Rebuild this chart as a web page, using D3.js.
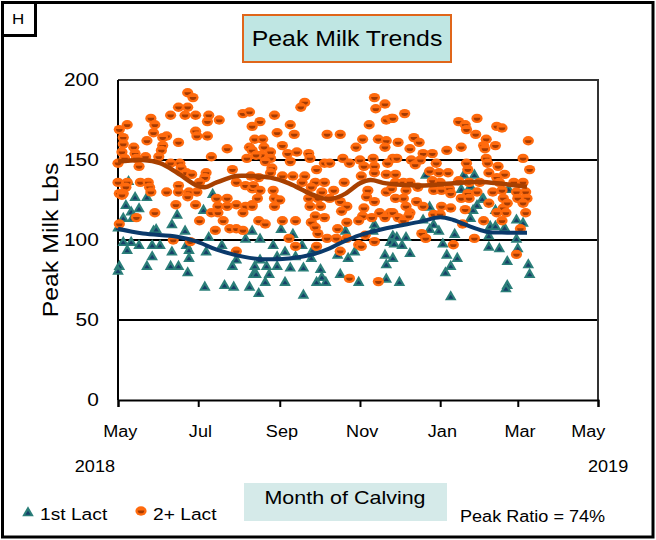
<!DOCTYPE html>
<html>
<head>
<meta charset="utf-8">
<script src="https://cdn.jsdelivr.net/npm/d3@7"></script>
<style>
    body { margin: 0; background: #fff; }
    svg { display: block; font-family: "Liberation Sans", Arial, sans-serif; }
</style>
</head>
<body>
<div class="container"></div>
<script>
const w = 656;
const h = 540;

const margin = {
    top: 80,
    right: 58,
    bottom: 140,
    left: 118
}

// the original lettering is a little wider than Arial
const stretch = 1.13;

// peak milk (lbs) by calving date
const firstLact = [
    ['2018-05-09', 137], ['2018-05-14', 127], ['2018-05-23', 127], ['2018-07-12', 129], ['2018-05-07', 122],
    ['2018-05-17', 120], ['2018-06-15', 116], ['2018-07-05', 119], ['2018-05-11', 118], ['2018-05-12', 114],
    ['2018-05-05', 114], ['2018-06-11', 110], ['2018-05-01', 108], ['2018-06-21', 106], ['2018-05-28', 106],
    ['2018-05-30', 107], ['2018-07-09', 102], ['2018-05-05', 99], ['2018-05-11', 99], ['2018-05-17', 97],
    ['2018-05-27', 97], ['2018-06-02', 97], ['2018-06-22', 97], ['2018-07-19', 97], ['2018-05-08', 94],
    ['2018-06-11', 93], ['2018-06-24', 94], ['2018-07-07', 93], ['2018-08-06', 101], ['2018-07-30', 88],
    ['2018-05-27', 90], ['2018-05-23', 84], ['2018-06-10', 84], ['2018-06-16', 84], ['2018-06-24', 89],
    ['2018-06-23', 80], ['2018-05-02', 84], ['2018-05-01', 81], ['2018-07-27', 84], ['2018-08-12', 79],
    ['2018-07-06', 71], ['2018-07-21', 72], ['2018-07-28', 71], ['2018-08-09', 71], ['2018-08-11', 106],
    ['2018-08-17', 101], ['2018-09-02', 107], ['2018-09-11', 104], ['2018-08-27', 97], ['2018-09-18', 97],
    ['2018-09-05', 93], ['2018-09-26', 94], ['2018-08-17', 88], ['2018-08-30', 90], ['2018-09-13', 90],
    ['2018-09-25', 89], ['2018-10-15', 91], ['2018-10-23', 89], ['2018-10-28', 93], ['2018-11-20', 91],
    ['2018-11-21', 85], ['2018-11-24', 99], ['2018-10-21', 106], ['2018-11-11', 106], ['2018-11-12', 110],
    ['2018-08-13', 84], ['2018-08-22', 84], ['2018-08-30', 84], ['2018-09-09', 83], ['2018-09-19', 83],
    ['2018-08-14', 79], ['2018-08-24', 79], ['2018-09-05', 74], ['2018-10-02', 82], ['2018-10-03', 77],
    ['2018-09-29', 74], ['2018-10-06', 74], ['2018-10-17', 79], ['2018-10-31', 74], ['2018-11-21', 76],
    ['2018-08-21', 74], ['2018-08-16', 67], ['2018-09-19', 66], ['2018-12-21', 141], ['2019-01-19', 141],
    ['2019-01-27', 141], ['2019-01-24', 134], ['2019-01-17', 132], ['2019-02-03', 126], ['2019-02-22', 132],
    ['2018-12-24', 121], ['2019-01-29', 122], ['2019-02-02', 126], ['2019-01-26', 119], ['2019-01-24', 114],
    ['2019-02-12', 119], ['2019-02-28', 113], ['2019-03-05', 111], ['2018-12-19', 113], ['2018-12-27', 110],
    ['2018-12-24', 107], ['2018-12-31', 106], ['2019-01-12', 104], ['2019-02-08', 109], ['2019-02-12', 109],
    ['2019-02-19', 108], ['2019-02-07', 103], ['2019-02-28', 101], ['2019-01-03', 98], ['2019-02-07', 96],
    ['2019-02-15', 95], ['2019-03-01', 95], ['2019-01-06', 91], ['2019-01-14', 89], ['2019-02-21', 87],
    ['2019-01-09', 84], ['2019-01-05', 80], ['2019-03-09', 85], ['2019-03-10', 79], ['2018-11-26', 103],
    ['2018-11-29', 102], ['2018-12-06', 102], ['2018-11-27', 98], ['2018-12-03', 97], ['2018-12-09', 92],
    ['2018-11-26', 89], ['2018-12-01', 74], ['2019-02-21', 72], ['2019-02-20', 70], ['2019-01-09', 65]
];

const secondLact = [
    ['2018-06-23', 192], ['2018-06-27', 189], ['2018-06-16', 183], ['2018-06-23', 183], ['2018-06-10', 178],
    ['2018-06-21', 178], ['2018-06-29', 178], ['2018-07-09', 178], ['2018-07-17', 175], ['2018-07-08', 174],
    ['2018-08-04', 179], ['2018-08-09', 180], ['2018-05-26', 176], ['2018-05-29', 172], ['2018-05-08', 172],
    ['2018-05-02', 169], ['2018-06-29', 168], ['2018-05-28', 167], ['2018-06-30', 165], ['2018-07-08', 165],
    ['2018-06-07', 165], ['2018-06-04', 164], ['2018-05-05', 164], ['2018-05-23', 162], ['2018-06-16', 161],
    ['2018-05-05', 160], ['2018-06-04', 159], ['2018-07-23', 157], ['2018-08-09', 158], ['2018-05-13', 158],
    ['2018-06-03', 156], ['2018-05-04', 155], ['2018-05-14', 154], ['2018-05-06', 151], ['2018-05-15', 151],
    ['2018-05-22', 152], ['2018-06-01', 152], ['2018-07-11', 152], ['2018-08-07', 151], ['2018-05-01', 148],
    ['2018-05-17', 146], ['2018-06-10', 148], ['2018-06-17', 148], ['2018-06-18', 145], ['2018-06-22', 142],
    ['2018-06-26', 141], ['2018-07-07', 142], ['2018-07-06', 139], ['2018-07-02', 136], ['2018-07-27', 144],
    ['2018-07-30', 136], ['2018-08-06', 134], ['2018-08-10', 140], ['2018-05-01', 136], ['2018-05-08', 136],
    ['2018-05-18', 136], ['2018-05-24', 136], ['2018-05-25', 133], ['2018-05-07', 133], ['2018-05-02', 129],
    ['2018-05-05', 129], ['2018-05-26', 130], ['2018-06-07', 130], ['2018-06-16', 134], ['2018-06-16', 130],
    ['2018-06-24', 130], ['2018-06-30', 130], ['2018-07-15', 126], ['2018-07-23', 126], ['2018-08-11', 132],
    ['2018-06-23', 127], ['2018-05-04', 128], ['2018-06-14', 122], ['2018-06-29', 122], ['2018-05-29', 117],
    ['2018-05-15', 114], ['2018-05-02', 110], ['2018-07-02', 112], ['2018-07-11', 117], ['2018-07-16', 117],
    ['2018-07-16', 121], ['2018-07-23', 121], ['2018-07-30', 122], ['2018-08-06', 121], ['2018-08-04', 117],
    ['2018-08-11', 122], ['2018-07-20', 112], ['2018-07-14', 106], ['2018-07-25', 107], ['2018-07-30', 107],
    ['2018-08-04', 106], ['2018-06-12', 100], ['2018-06-25', 99], ['2018-07-30', 93],
    ['2018-09-20', 186], ['2018-09-17', 183], ['2018-11-12', 189], ['2018-11-20', 185], ['2018-11-13', 182],
    ['2018-08-28', 178], ['2018-09-09', 172], ['2018-08-17', 174], ['2018-08-11', 171], ['2018-08-30', 167],
    ['2018-09-12', 166], ['2018-10-07', 166], ['2018-10-17', 166], ['2018-11-08', 172], ['2018-11-21', 175],
    ['2018-11-25', 176], ['2018-08-13', 163], ['2018-08-19', 163], ['2018-09-03', 159], ['2018-08-20', 158],
    ['2018-08-25', 155], ['2018-08-11', 156], ['2018-09-14', 155], ['2018-09-07', 154], ['2018-09-23', 154],
    ['2018-09-24', 151], ['2018-11-03', 163], ['2018-10-29', 158], ['2018-11-15', 163], ['2018-11-21', 162],
    ['2018-11-20', 158], ['2018-08-18', 153], ['2018-08-25', 151], ['2018-08-21', 149], ['2018-08-14', 153],
    ['2018-09-09', 149], ['2018-10-19', 151], ['2018-10-24', 148], ['2018-10-05', 148], ['2018-10-09', 148],
    ['2018-11-01', 150], ['2018-11-11', 151], ['2018-11-04', 146], ['2018-11-12', 146], ['2018-11-12', 142],
    ['2018-11-22', 148], ['2018-11-26', 151], ['2018-08-26', 145], ['2018-08-25', 142], ['2018-09-29', 144],
    ['2018-09-03', 140], ['2018-09-11', 140], ['2018-09-20', 140], ['2018-08-16', 139], ['2018-08-12', 134],
    ['2018-09-18', 136], ['2018-09-28', 136], ['2018-10-05', 136], ['2018-10-20', 136], ['2018-11-02', 140],
    ['2018-11-21', 141], ['2018-08-17', 131], ['2018-08-27', 131], ['2018-09-25', 133], ['2018-10-03', 130],
    ['2018-10-12', 131], ['2018-11-07', 131], ['2018-11-21', 130], ['2018-11-06', 127],
    ['2018-08-15', 126], ['2018-08-28', 126], ['2018-09-01', 125], ['2018-08-28', 121], ['2018-08-11', 121],
    ['2018-09-23', 126], ['2018-09-30', 126], ['2018-10-09', 126], ['2018-10-17', 124], ['2018-10-22', 121],
    ['2018-10-02', 121], ['2018-09-24', 121], ['2018-10-18', 118], ['2018-11-04', 120], ['2018-11-12', 124],
    ['2018-11-03', 115], ['2018-11-10', 114], ['2018-11-16', 117], ['2018-11-20', 114], ['2018-11-24', 117],
    ['2018-08-16', 112], ['2018-08-21', 110], ['2018-09-03', 112], ['2018-09-13', 112], ['2018-09-25', 111],
    ['2018-09-28', 115], ['2018-10-05', 114], ['2018-10-22', 111], ['2018-10-31', 112], ['2018-09-28', 108],
    ['2018-09-30', 104], ['2018-10-15', 107], ['2018-09-08', 101], ['2018-09-13', 96], ['2018-09-29', 96],
    ['2018-10-07', 101], ['2018-10-14', 101], ['2018-10-22', 101], ['2018-11-05', 103], ['2018-11-12', 99],
    ['2018-10-31', 97], ['2018-11-02', 96], ['2018-10-17', 93], ['2018-10-24', 76], ['2018-11-15', 74],
    ['2018-12-05', 179], ['2018-11-26', 176], ['2019-01-29', 176], ['2019-01-15', 174], ['2019-01-20', 172],
    ['2019-01-21', 169], ['2019-02-13', 171], ['2019-02-17', 170], ['2019-01-28', 166], ['2019-02-05', 163],
    ['2019-02-03', 159], ['2019-02-04', 157], ['2019-02-12', 159], ['2019-03-09', 162], ['2018-11-30', 161],
    ['2018-12-12', 164], ['2018-12-16', 161], ['2018-12-09', 157], ['2019-01-06', 156], ['2019-01-17', 158],
    ['2018-12-19', 154], ['2018-12-26', 154], ['2018-11-29', 151], ['2018-12-10', 150], ['2018-12-13', 147],
    ['2018-12-17', 150], ['2018-12-29', 148], ['2019-02-05', 151], ['2019-02-06', 148], ['2019-01-21', 148],
    ['2019-02-14', 146], ['2019-03-05', 151], ['2019-03-10', 144], ['2019-01-22', 144], ['2018-12-24', 143],
    ['2018-12-31', 142], ['2019-01-07', 142], ['2018-11-28', 141], ['2019-02-07', 142], ['2019-02-13', 139],
    ['2019-02-19', 141], ['2018-12-26', 137], ['2019-01-01', 136], ['2019-01-15', 137], ['2019-01-23', 136],
    ['2019-01-31', 136], ['2019-02-15', 136], ['2019-02-26', 136], ['2019-03-05', 136], ['2018-11-28', 136],
    ['2018-12-04', 136], ['2018-12-09', 136], ['2018-11-25', 132], ['2018-12-06', 131], ['2018-12-15', 133],
    ['2018-12-27', 131], ['2019-01-02', 131], ['2019-01-08', 132], ['2019-01-09', 129], ['2019-01-22', 129],
    ['2019-01-29', 130], ['2019-02-10', 130], ['2019-02-17', 131], ['2019-02-28', 130], ['2019-03-07', 130],
    ['2019-02-18', 126], ['2019-03-01', 126], ['2019-03-08', 126], ['2019-01-17', 126], ['2019-01-23', 126],
    ['2018-12-04', 126], ['2018-11-28', 126], ['2018-12-14', 124], ['2018-12-19', 121], ['2018-12-06', 121],
    ['2018-12-09', 117], ['2018-11-26', 117], ['2018-11-30', 114], ['2018-12-04', 112], ['2018-12-08', 115],
    ['2019-01-02', 121], ['2019-01-09', 120], ['2018-12-27', 116], ['2019-01-01', 116], ['2019-01-20', 119],
    ['2019-02-07', 123], ['2019-02-18', 120], ['2019-02-21', 123], ['2019-03-05', 123], ['2019-02-13', 117],
    ['2019-02-20', 117], ['2019-02-17', 112], ['2019-03-07', 117], ['2019-02-03', 112], ['2019-01-18', 110],
    ['2018-12-18', 104], ['2018-12-21', 101], ['2019-01-11', 97], ['2019-01-27', 101], ['2019-03-03', 107],
    ['2019-02-28', 91]
];

// smoothed trend lines
const firstTrend = [
    ['2018-05-01', 107], ['2018-05-20', 104], ['2018-06-15', 102], ['2018-06-30', 99], ['2018-07-15', 94],
    ['2018-08-04', 89.6], ['2018-08-19', 88], ['2018-09-08', 88.5], ['2018-09-24', 90.6], ['2018-10-09', 94.8],
    ['2018-10-17', 98], ['2018-11-01', 103], ['2018-11-21', 107.3], ['2018-12-17', 111.5], ['2019-01-01', 114.2],
    ['2019-01-11', 112.5], ['2019-01-24', 108.3], ['2019-02-05', 105.2], ['2019-02-21', 104.6], ['2019-03-08', 104.6]
];

const secondTrend = [
    ['2018-05-01', 149], ['2018-05-20', 150], ['2018-06-02', 148], ['2018-06-15', 142], ['2018-06-30', 134],
    ['2018-07-06', 133], ['2018-07-15', 136], ['2018-07-30', 140], ['2018-08-09', 140], ['2018-08-25', 139],
    ['2018-09-08', 135.4], ['2018-09-24', 129], ['2018-10-04', 126], ['2018-10-12', 126], ['2018-10-21', 129],
    ['2018-11-01', 135.4], ['2018-11-09', 137.5], ['2018-11-21', 135.4], ['2018-12-17', 134], ['2019-01-11', 135.4],
    ['2019-01-29', 136.4], ['2019-02-13', 135.4], ['2019-03-08', 133.3]
];

const yTicks = [0, 50, 100, 150, 200];
const yearLabels = ['2018', '2019'];
const peakRatio = 74;

const parse = d3.timeParse('%Y-%m-%d');
const xStart = parse('2018-05-01');
const xEnd = parse('2019-05-01');

const svg = d3.select('.container')
    .append('svg')
    .attr('width', w)
    .attr('height', h)
    .attr('viewBox', [0, 0, w, h]);

const x = d3.scaleTime()
    .domain([xStart, xEnd])
    .range([margin.left, w - margin.right]);

const y = d3.scaleLinear()
    .domain([0, 200])
    .range([h - margin.bottom, margin.top]);

// plain text helper, widened a bit like the source lettering
function label(px, py, txt, size, anchor = 'start', rot = 0) {
    return svg.append('text')
        .attr('transform', `translate(${px},${py}) rotate(${rot}) scale(${stretch},1)`)
        .attr('text-anchor', anchor)
        .style('font-size', size + 'px')
        .attr('fill', '#000')
        .text(txt);
}

const defs = svg.append('defs');

const tri = defs.append('g').attr('id', 'tri');
tri.append('path').attr('d', 'M0,-5.8L5.8,4.3L-5.8,4.3Z').attr('fill', '#2b7f79');
tri.append('path').attr('d', 'M0,-1.2L2.7,2.7L-2.7,2.7Z').attr('fill', '#173f69');

const dot = defs.append('g').attr('id', 'dot');
dot.append('ellipse').attr('rx', 5.6).attr('ry', 4.7).attr('fill', '#ff6a0d');
dot.append('path').attr('d', 'M-3.3,-0.6L3.3,-0.6A3.3,2.9 0 0 1 -3.3,-0.6Z').attr('fill', '#a53b02');

// outer frame and panel tag
svg.append('rect')
    .attr('x', 2.5).attr('y', 2.5)
    .attr('width', w - 5.5).attr('height', h - 5.5)
    .attr('fill', 'none').attr('stroke', '#000').attr('stroke-width', 3);

svg.append('rect')
    .attr('x', 2.5).attr('y', 2.5)
    .attr('width', 33).attr('height', 33)
    .attr('fill', '#fff').attr('stroke', '#000').attr('stroke-width', 3);

label(18, 24, 'H', 15, 'middle');

// title
svg.append('rect')
    .attr('x', 243).attr('y', 15)
    .attr('width', 208).attr('height', 47)
    .attr('fill', '#bfe6e3').attr('stroke', '#e0661a').attr('stroke-width', 2);

label(347, 46, 'Peak Milk Trends', 22, 'middle');

// grid and plot border
svg.append('g')
    .attr('transform', `translate(${margin.left},0)`)
    .call(d3.axisLeft(y).tickValues(yTicks).tickSize(0).tickPadding(17))
    .call(g => g.select('.domain').remove())
    .call(g => g.selectAll('text')
        .attr('transform', `scale(${stretch},1)`)
        .style('font-size', '18.5px')
        .style('font-family', '"Liberation Sans", Arial, sans-serif')
        .attr('fill', '#000'));

svg.append('g')
    .selectAll('line')
    .data([50, 100, 150])
    .join('line')
    .attr('x1', margin.left).attr('x2', w - margin.right)
    .attr('y1', d => y(d)).attr('y2', d => y(d))
    .attr('stroke', '#000').attr('stroke-width', 2);

svg.append('path')
    .attr('d', `M${margin.left},${y(200)}H${w - margin.right}V${y(0)}`)
    .attr('fill', 'none').attr('stroke', '#333').attr('stroke-width', 2);

svg.append('line')
    .attr('x1', margin.left).attr('x2', margin.left)
    .attr('y1', y(200)).attr('y2', y(0))
    .attr('stroke', '#000').attr('stroke-width', 2);

const xAxis = svg.append('g')
    .attr('transform', `translate(0,${y(0)})`)
    .call(d3.axisBottom(x)
        .ticks(d3.timeMonth.every(2))
        .tickSize(7)
        .tickPadding(19)
        .tickFormat(d3.timeFormat('%b')));

xAxis.select('.domain').attr('stroke', '#000').attr('stroke-width', 2);
xAxis.selectAll('.tick line').attr('stroke', '#000').attr('stroke-width', 2);
xAxis.selectAll('.tick text')
    .attr('transform', `scale(${stretch},1)`)
    .style('font-size', '16px')
    .style('font-family', '"Liberation Sans", Arial, sans-serif')
    .attr('fill', '#000')
    .attr('dx', (d, i, nodes) => i === nodes.length - 1 ? -9 : 1.5);

label(x(xStart) - 3, 472, yearLabels[0], 16, 'end');
label(x(xEnd) - 10, 472, yearLabels[1], 16, 'start');

label(58, (y(0) + y(200)) / 2, 'Peak Milk Lbs', 22, 'middle', -90);

// points
svg.append('g')
    .selectAll('use')
    .data(firstLact)
    .join('use')
    .attr('href', '#tri')
    .attr('x', d => x(parse(d[0])))
    .attr('y', d => y(d[1]));

svg.append('g')
    .selectAll('use')
    .data(secondLact)
    .join('use')
    .attr('href', '#dot')
    .attr('x', d => x(parse(d[0])))
    .attr('y', d => y(d[1]));

const line = d3.line()
    .x(d => x(parse(d[0])))
    .y(d => y(d[1]))
    .curve(d3.curveCatmullRom.alpha(0.5));

svg.append('path')
    .datum(secondTrend)
    .attr('d', line)
    .attr('fill', 'none')
    .attr('stroke', '#a84000')
    .attr('stroke-width', 4.5);

svg.append('path')
    .datum(firstTrend)
    .attr('d', line)
    .attr('fill', 'none')
    .attr('stroke', '#0b3a6b')
    .attr('stroke-width', 4);

// legend and footer
svg.append('use').attr('href', '#tri').attr('x', 28).attr('y', 512);
label(40, 520, '1st Lact', 17);

svg.append('use').attr('href', '#dot').attr('x', 141).attr('y', 511);
label(153, 520, '2+ Lact', 17);

svg.append('rect')
    .attr('x', 244).attr('y', 483)
    .attr('width', 203).attr('height', 38)
    .attr('fill', '#d5eae9');

label(345, 504, 'Month of Calving', 19, 'middle');

label(460, 522, `Peak Ratio = ${peakRatio}%`, 16);
</script>
</body>
</html>
